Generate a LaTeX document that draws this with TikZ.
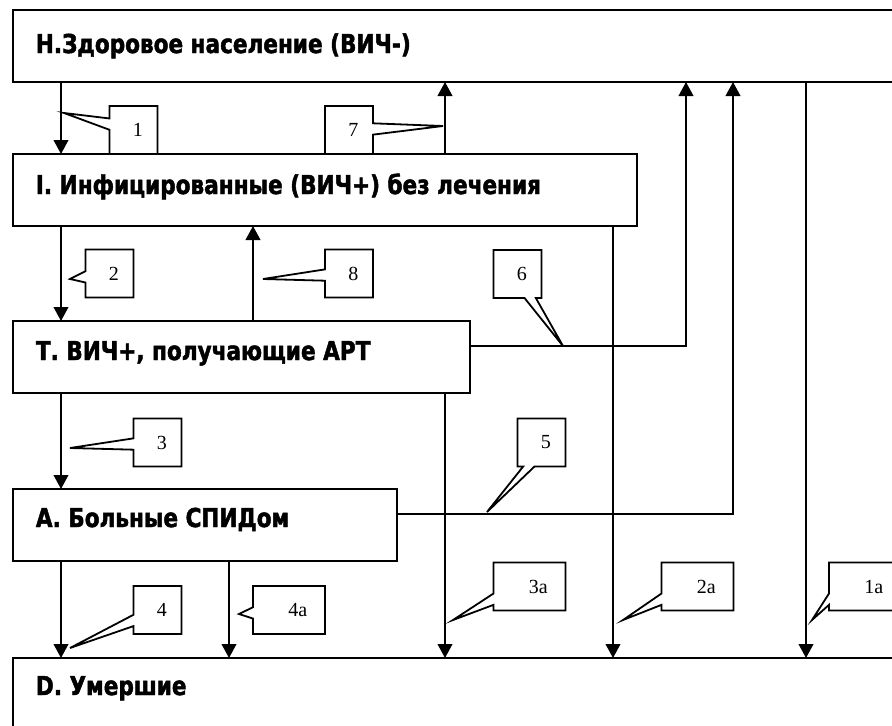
\documentclass[tikz,border=0pt]{standalone}
\usepackage{fontspec}
\setmainfont{Liberation Serif}
\newfontfamily\stagefont[FakeStretch=0.83,BoldFeatures={FakeBold=1.8}]{DejaVu Sans}
\usetikzlibrary{arrows.meta,shapes.callouts}

\begin{document}
\begin{tikzpicture}[x=0.75pt,y=-0.75pt,line width=1.35pt,
    stagebox/.style={draw,rectangle,anchor=north west,inner sep=0pt,outer sep=0pt,minimum height=54pt},
    stagetext/.style={anchor=base west,inner sep=0pt,font=\stagefont\bfseries\fontsize{19.5}{23}\selectfont},
    flow/.style={-{Triangle[length=10.5pt,width=11pt]}},
    note/.style={rectangle callout,draw,fill=white,inner sep=0pt,minimum height=36pt,
      callout pointer width=8.5pt,font=\fontsize{15}{17}\selectfont}]
  \useasboundingbox (0,0) rectangle (892,725);
  \clip (0,0) rectangle (892,725);

  % stages of the model
  \node[stagebox,minimum width=675pt] (H) at (13,10) {};
  \node[stagebox,minimum width=468pt] (I) at (13,154) {};
  \node[stagebox,minimum width=342.75pt] (T) at (13,321) {};
  \node[stagebox,minimum width=288pt] (A) at (13,489) {};
  \node[stagebox,minimum width=675pt,minimum height=75pt] (D) at (13,658) {};

  \node[stagetext] (Htext) at (35,53) {Н.Здоровое население (ВИЧ-)};
  \node[stagetext] (Itext) at (35,194) {I. Инфицированные (ВИЧ+) без лечения};
  \node[stagetext] (Ttext) at (35,360) {Т. ВИЧ+, получающие АРТ};
  \node[stagetext] (Atext) at (35,527) {А. Больные СПИДом};
  \node[stagetext] (Dtext) at (35,695) {D. Умершие};

  % columns of the transitions
  \coordinate (colLeft) at (61,0);
  \coordinate (col4a) at (229,0);
  \coordinate (col8) at (253,0);
  \coordinate (colMid) at (445,0);
  \coordinate (col2a) at (613,0);
  \coordinate (col6) at (686,0);
  \coordinate (col5) at (733,0);
  \coordinate (col1a) at (806,0);

  \foreach \col/\src/\dst in {%
    colLeft/H.south/I.north, colLeft/I.south/T.north, colLeft/T.south/A.north,
    colLeft/A.south/D.north, col4a/A.south/D.north, colMid/I.north/H.south,
    col8/T.north/I.south, colMid/T.south/D.north, col2a/I.south/D.north,
    col1a/H.south/D.north}{
    \draw[flow] (\col |- \src) -- (\col |- \dst);
  }
  \draw[flow] ([yshift=8.25pt]T.east) -| (col6 |- H.south);
  \draw[flow] ([yshift=8.25pt]A.east) -| (col5 |- H.south);

  % numbered callouts
  \foreach \nm/\cx/\cy/\wd/\tipx/\tipy/\txt in {%
    n1/133.5/130/36pt/64/113/1, n7/349/130/36pt/443/126/7,
    n2/109.5/273.5/36pt/70/279/2, n8/349/273.5/36pt/263/279/8,
    n6/517.5/274/36pt/563/346/6, n3/157.5/442.5/36pt/70/448/3,
    n5/541.5/442.5/36pt/487/512/5, n4/157.5/610/36pt/70/648/4,
    n4a/289/610/54pt/239/614/4a, n3a/529.5/586.5/54pt/453/620/3a,
    n2a/697.5/586.5/54pt/623/620/2a, n1a/865/586.5/54pt/812/620/1a}{
    \node[note,minimum width=\wd,callout absolute pointer={(\tipx,\tipy)}] (\nm) at (\cx,\cy) {\txt};
  }
\end{tikzpicture}
\end{document}
